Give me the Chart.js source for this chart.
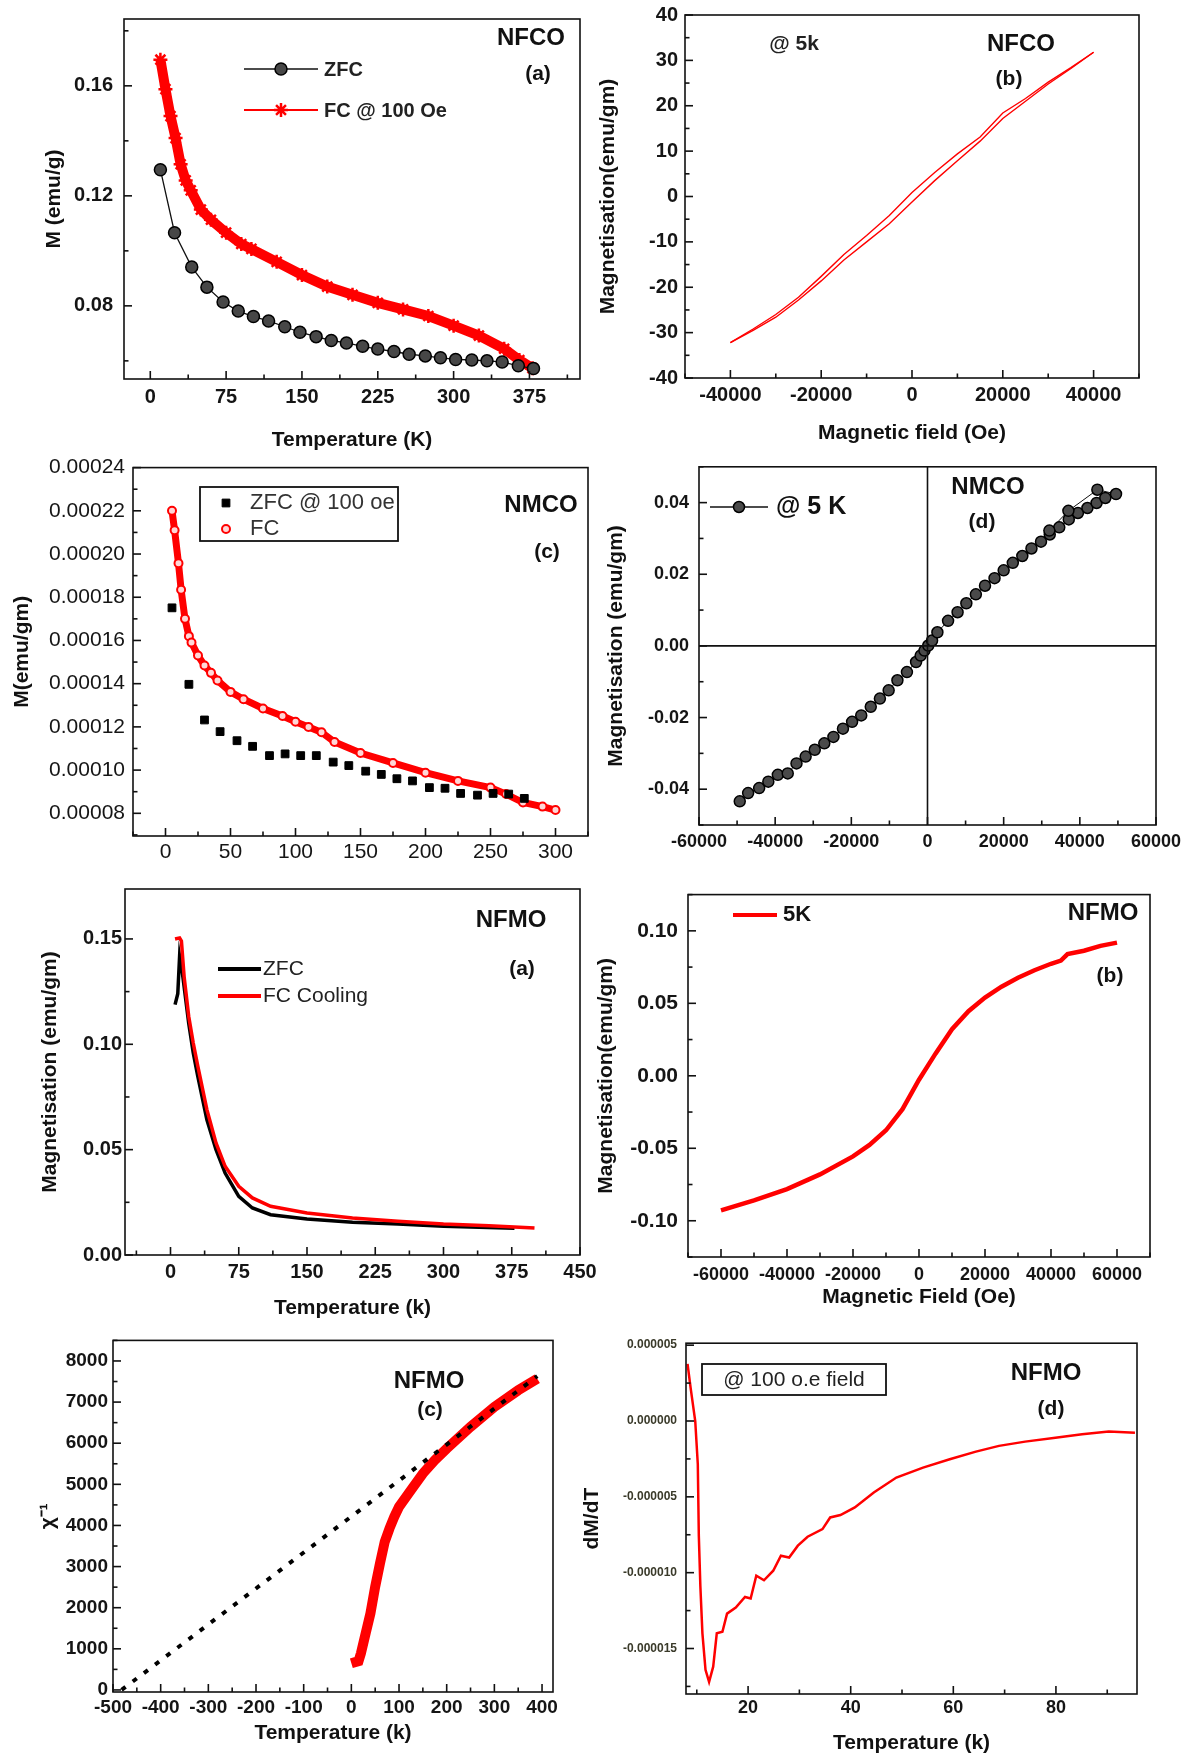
<!DOCTYPE html>
<html>
<head>
<meta charset="utf-8">
<title>NFCO / NMCO / NFMO magnetic measurements</title>
<script src="https://cdn.jsdelivr.net/npm/chart.js@4.4.1/dist/chart.umd.min.js"></script>
<style>
  html, body { margin: 0; padding: 0; background: #fff; overflow: hidden; }
  body { width: 1181px; height: 1754px; position: relative; }
  canvas { position: absolute; }
</style>
</head>
<body>
<canvas id="nfcoMT"></canvas>
<canvas id="nfcoMH"></canvas>
<canvas id="nmcoMT"></canvas>
<canvas id="nmcoMH"></canvas>
<canvas id="nfmoMT"></canvas>
<canvas id="nfmoMH"></canvas>
<canvas id="nfmoChi"></canvas>
<canvas id="nfmoDmdt"></canvas>
<script>
// NFCO (a): M vs T
const nfcoZfcT = [10, 24, 41, 56, 72, 87, 102, 117, 133, 148, 164, 179, 194, 210, 225, 241, 256, 272, 287, 302, 318, 333, 348, 364, 379];
const nfcoZfcM = [0.1295, 0.1066, 0.0941, 0.0868, 0.0814, 0.0781, 0.0761, 0.0745, 0.0724, 0.0704, 0.0688, 0.0674, 0.0665, 0.0653, 0.0643, 0.0634, 0.0624, 0.0618, 0.0611, 0.0605, 0.0603, 0.0600, 0.0596, 0.0582, 0.0572];
const nfcoFcT = [10, 15, 20, 25, 30, 35, 40, 50, 60, 75, 90, 100, 125, 150, 175, 200, 225, 250, 275, 300, 325, 350, 365, 378];
const nfcoFcM = [0.1695, 0.1588, 0.149, 0.141, 0.1315, 0.1256, 0.122, 0.115, 0.1113, 0.1066, 0.1025, 0.1007, 0.096, 0.0912, 0.087, 0.084, 0.0811, 0.0787, 0.0763, 0.0728, 0.0692, 0.0644, 0.0603, 0.0573];

// NFCO (b): hysteresis at 5 K
const nfcoField = [-40000, -35000, -30000, -25000, -20000, -15000, -10000, -5000, 0, 5000, 10000, 15000, 20000, 25000, 30000, 35000, 40000];
const nfcoUpper = [-32.2, -29.2, -26.0, -22.2, -17.6, -12.8, -8.6, -4.2, 0.9, 5.3, 9.4, 13.1, 18.4, 21.6, 25.2, 28.4, 31.8];
const nfcoLower = [-32.2, -29.5, -26.6, -22.8, -18.6, -14.0, -10.0, -6.0, -1.2, 3.5, 7.9, 12.2, 17.2, 21.0, 24.8, 28.2, 31.8];

// NMCO (c): M vs T
const nmcoZfcT = [5, 18, 30, 42, 55, 67, 80, 92, 104, 116, 129, 141, 154, 166, 178, 190, 203, 215, 227, 240, 252, 264, 276];
const nmcoZfcM = [0.0001751, 0.0001397, 0.0001232, 0.0001178, 0.0001136, 0.000111, 0.0001067, 0.0001075, 0.0001067, 0.0001067, 0.0001037, 0.0001021, 0.0000995, 0.000098, 0.000096, 0.000095, 0.0000919, 0.0000916, 0.0000892, 0.0000884, 0.0000892, 0.0000889, 0.0000869];
const nmcoFcT = [5, 7, 10, 12, 15, 18, 20, 25, 30, 35, 40, 50, 60, 75, 90, 100, 110, 120, 130, 150, 175, 200, 225, 250, 262, 275, 290, 300];
const nmcoFcM = [0.00022, 0.000211, 0.0001957, 0.0001835, 0.00017, 0.000162, 0.000159, 0.000153, 0.0001484, 0.000145, 0.0001415, 0.0001362, 0.0001328, 0.0001285, 0.000125, 0.0001224, 0.00012, 0.0001175, 0.000113, 0.0001079, 0.0001033, 0.0000988, 0.000095, 0.0000919, 0.0000889, 0.000085, 0.0000831, 0.0000815];

// NMCO (d): M vs H at 5 K
const nmcoField = [-49300, -47100, -44200, -41800, -39300, -36700, -34400, -32000, -29600, -27100, -24700, -22200, -19800, -17400, -14900, -12500, -10200, -7900, -5400, -3000, -1800, -800, 200, 1200, 2600, 5400, 7900, 10200, 12700, 15100, 17600, 20000, 22400, 24900, 27300, 29800, 32100, 34600, 37100, 39500, 42000, 44400, 46700, 49500, 44600, 37000, 32000];
const nmcoM = [-0.0434, -0.0411, -0.0397, -0.0379, -0.036, -0.0356, -0.0328, -0.0309, -0.029, -0.0272, -0.0254, -0.0231, -0.0212, -0.0194, -0.017, -0.0147, -0.0124, -0.0096, -0.0073, -0.0045, -0.0027, -0.0013, 0.0001, 0.0015, 0.0038, 0.007, 0.0094, 0.0119, 0.0144, 0.0168, 0.0189, 0.0211, 0.0232, 0.0251, 0.0272, 0.0291, 0.0311, 0.0331, 0.0353, 0.0371, 0.0385, 0.0399, 0.0413, 0.0424, 0.0436, 0.0377, 0.0322];

// NFMO (a): M vs T
const nfmoZfcT = [5, 8, 10, 13, 20, 25, 30, 40, 50, 60, 75, 90, 110, 150, 200, 250, 300, 378];
const nfmoZfcM = [0.1188, 0.124, 0.1418, 0.134, 0.110, 0.0959, 0.0848, 0.0642, 0.050, 0.0389, 0.0278, 0.0223, 0.0191, 0.0171, 0.0155, 0.0147, 0.0136, 0.0127];
const nfmoFcT = [5, 10, 12, 15, 20, 25, 30, 40, 50, 60, 75, 90, 110, 150, 200, 250, 300, 350, 400];
const nfmoFcM = [0.150, 0.1505, 0.149, 0.132, 0.1133, 0.1006, 0.0896, 0.069, 0.0532, 0.0421, 0.0326, 0.0271, 0.0231, 0.0199, 0.0176, 0.016, 0.0147, 0.0139, 0.0128];

// NFMO (b): M vs H at 5 K
const nfmoField = [-60000, -50000, -40000, -30000, -20000, -15000, -10000, -5000, 0, 5000, 10000, 15000, 20000, 25000, 30000, 35000, 40000, 43000, 45000, 50000, 55000, 60000];
const nfmoM = [-0.0928, -0.086, -0.0782, -0.068, -0.0556, -0.0477, -0.0376, -0.023, -0.0027, 0.0153, 0.0322, 0.0446, 0.054, 0.0615, 0.0676, 0.0728, 0.0773, 0.0795, 0.084, 0.0863, 0.0896, 0.0919];

// NFMO (c): inverse susceptibility and Curie-Weiss fit
const chiT = [0, 15, 20, 30, 40, 50, 60, 70, 80, 90, 100, 125, 150, 175, 200, 250, 300, 350, 390];
const chiInv = [648, 700, 890, 1376, 1862, 2510, 3077, 3603, 3927, 4210, 4453, 4858, 5263, 5587, 5870, 6397, 6883, 7287, 7570];
const fitT = [-482, 390];
const fitChi = [0, 7630];

// NFMO (d): dM/dT
const dmdtT = [8.2, 8.8, 9.7, 10.2, 10.4, 10.7, 11.1, 11.7, 12.4, 13.2, 13.9, 15, 15.9, 17.6, 19.4, 20.5, 21.6, 23.1, 24.9, 26.4, 28, 29.7, 31.6, 34.5, 36, 38, 40.8, 44.5, 48.9, 54.1, 59.3, 64.4, 68.9, 74, 79.9, 85.1, 90.3, 95.4];
const dmdtV = [3.77e-6, 2.19e-6, 0, -2.85e-6, -7.57e-6, -10.9e-6, -14.0e-6, -16.4e-6, -17.2e-6, -16.2e-6, -14.0e-6, -13.9e-6, -12.7e-6, -12.3e-6, -11.6e-6, -11.7e-6, -10.2e-6, -10.5e-6, -9.87e-6, -8.88e-6, -9.0e-6, -8.22e-6, -7.63e-6, -7.13e-6, -6.36e-6, -6.2e-6, -5.7e-6, -4.71e-6, -3.73e-6, -3.07e-6, -2.52e-6, -2.02e-6, -1.64e-6, -1.36e-6, -1.1e-6, -0.88e-6, -0.7e-6, -0.77e-6];

const FONT = "'Liberation Sans', Arial, sans-serif";
const RED = '#ff0000';
const pts = (xs, ys) => xs.map((x, i) => ({x, y: ys[i]}));
const fix = n => v => (Math.abs(v) < 1e-12 ? 0 : v).toFixed(n);
const plain = v => String(Math.round(v));

// frame box + inward major/minor ticks, optional zero lines
const frameTicks = {
  id: 'frameTicks',
  afterDatasetsDraw(chart) {
    const {ctx, chartArea: a, scales} = chart;
    const info = panelInfo[chart.canvas.id];
    ctx.save();
    ctx.strokeStyle = '#111';
    ctx.lineWidth = 1.6;
    if (info.zero) {
      const zx = scales.x.getPixelForValue(0), zy = scales.y.getPixelForValue(0);
      ctx.beginPath();
      ctx.moveTo(zx, a.top); ctx.lineTo(zx, a.bottom);
      ctx.moveTo(a.left, zy); ctx.lineTo(a.right, zy);
      ctx.stroke();
    }
    ctx.strokeRect(a.left, a.top, a.right - a.left, a.bottom - a.top);
    for (const s of [scales.x, scales.y]) {
      const vals = s.ticks.map(t => t.value);
      const step = vals[1] - vals[0];
      for (let k = -2; k < vals.length * 2 + 2; k++) {
        const v = vals[0] + k * step / 2;
        if (v < s.min || v > s.max) continue;
        const len = k % 2 === 0 ? 8 : 4.5;
        const p = s.getPixelForValue(v);
        ctx.beginPath();
        if (s.isHorizontal()) { ctx.moveTo(p, a.bottom); ctx.lineTo(p, a.bottom - len); }
        else { ctx.moveTo(a.left, p); ctx.lineTo(a.left + len, p); }
        ctx.stroke();
      }
    }
    ctx.restore();
  }
};

// labels, legend keys and boxes placed in page pixels
const notes = {
  id: 'notes',
  afterDraw(chart) {
    const info = panelInfo[chart.canvas.id];
    const ctx = chart.ctx;
    ctx.save();
    ctx.translate(-info.ox, -info.oy);
    for (const n of info.notes) {
      if (n.box) {
        ctx.strokeStyle = '#111'; ctx.lineWidth = 1.8;
        ctx.strokeRect(n.box[0], n.box[1], n.box[2] - n.box[0], n.box[3] - n.box[1]);
      }
      if (n.line) {
        ctx.strokeStyle = n.color; ctx.lineWidth = n.width;
        ctx.beginPath(); ctx.moveTo(n.line[0], n.line[2]); ctx.lineTo(n.line[1], n.line[2]); ctx.stroke();
      }
      if (n.marker) {
        const m = n.marker;
        ctx.fillStyle = m.bg; ctx.strokeStyle = m.border; ctx.lineWidth = m.bw;
        Chart.helpers.drawPoint(ctx, {pointStyle: m.style, radius: m.r, borderWidth: m.bw, rotation: 0}, m.x, m.y);
      }
      if (n.text) {
        ctx.fillStyle = n.color || '#111';
        ctx.font = (n.weight || 'bold') + ' ' + (n.size || 21) + 'px ' + FONT;
        ctx.textAlign = n.align || 'left';
        ctx.textBaseline = 'middle';
        ctx.fillText(n.text, n.x, n.y);
      }
    }
    ctx.restore();
  }
};

const panelInfo = {};

function axisOpts(a, size, isX) {
  return {
    type: 'linear', min: a.min, max: a.max,
    grid: { display: false, drawTicks: false },
    border: { display: false },
    ticks: {
      autoSkip: false, maxRotation: 0,
      padding: a.pad, color: a.color || '#151515',
      font: { family: FONT, size: a.size, weight: a.weight || 'bold' },
      callback: a.fmt
    },
    // ticks on whole multiples of the step inside [min, max]
    afterBuildTicks: s => {
      const ticks = [];
      const k0 = Math.ceil(a.min / a.step - 1e-9), k1 = Math.floor(a.max / a.step + 1e-9);
      for (let k = k0; k <= k1; k++) ticks.push({value: Number((k * a.step).toPrecision(12))});
      s.ticks = ticks;
    },
    title: {
      display: !!a.title, text: a.title, color: '#111', padding: 0,
      font: { family: FONT, size: 21, weight: 'bold' }
    },
    afterFit: s => { if (isX) s.height = size; else s.width = size; }
  };
}

function buildPanel(p) {
  const f = p.frame;
  const half = 1.2 * 21 / 2;
  const left = Math.round(p.yTitleX - half);
  const top = f.t - 16;
  const right = f.r + (p.padRight || 24);
  const bottom = Math.round(p.xTitleY ? p.xTitleY + half : f.b + 44);
  const cv = document.getElementById(p.id);
  cv.width = right - left;
  cv.height = bottom - top;
  cv.style.left = left + 'px';
  cv.style.top = top + 'px';
  panelInfo[p.id] = { notes: p.notes, ox: left, oy: top, zero: !!p.zero };
  new Chart(cv, {
    type: 'scatter',
    data: { datasets: p.datasets },
    options: {
      responsive: false,
      animation: false,
      layout: { padding: { top: f.t - top, right: right - f.r, left: 0, bottom: 0 } },
      plugins: { legend: { display: false }, tooltip: { enabled: false } },
      scales: {
        x: axisOpts(Object.assign({title: p.xTitle}, p.x), bottom - f.b, true),
        y: axisOpts(Object.assign({title: p.yTitle}, p.y), f.l - left, false)
      }
    },
    plugins: [frameTicks, notes]
  });
}

const line = (data, color, width, extra) => Object.assign({
  data, showLine: true, borderColor: color, borderWidth: width, pointRadius: 0, tension: 0
}, extra || {});

const panels = [
  {
    id: 'nfcoMT', frame: {l: 124, t: 12, r: 580, b: 379}, yTitleX: 55, xTitleY: 440,
    xTitle: 'Temperature (K)', yTitle: 'M (emu/g)',
    x: {min: -26, max: 425, step: 75, pad: 6, size: 20, fmt: plain},
    y: {min: 0.0534, max: 0.1843, step: 0.04, pad: 11, size: 20, fmt: fix(2)},
    datasets: [
      line(pts(nfcoZfcT, nfcoZfcM), '#111', 1.3, {order: 0, pointRadius: 6, pointStyle: 'circle',
        pointBackgroundColor: '#474747', pointBorderColor: '#000', pointBorderWidth: 1.5}),
      line(pts(nfcoFcT, nfcoFcM), RED, 10, {order: 1, pointRadius: 7, pointStyle: 'star',
        pointBorderColor: RED, pointBackgroundColor: RED, pointBorderWidth: 2.5})
    ],
    notes: [
      {line: [244, 318, 69], color: '#111', width: 1.5, marker: {x: 281, y: 69, style: 'circle', r: 6, bg: '#474747', border: '#000', bw: 1.5}},
      {text: 'ZFC', x: 324, y: 70, size: 20, color: '#222'},
      {line: [244, 318, 110], color: RED, width: 2, marker: {x: 281, y: 110, style: 'star', r: 7, bg: RED, border: RED, bw: 2.5}},
      {text: 'FC @ 100 Oe', x: 324, y: 111, size: 20, color: '#222'},
      {text: 'NFCO', x: 531, y: 38, size: 24, align: 'center'},
      {text: '(a)', x: 538, y: 74, size: 21, align: 'center'}
    ]
  },
  {
    id: 'nfcoMH', frame: {l: 685, t: 12, r: 1139, b: 378}, yTitleX: 609, xTitleY: 433,
    xTitle: 'Magnetic field (Oe)', yTitle: 'Magnetisation(emu/gm)',
    x: {min: -50000, max: 50000, step: 20000, pad: 5, size: 20, fmt: plain},
    y: {min: -40, max: 40, step: 10, pad: 7, size: 20, fmt: plain},
    datasets: [
      line(pts(nfcoField, nfcoUpper), RED, 1.4),
      line(pts(nfcoField, nfcoLower), RED, 1.4)
    ],
    notes: [
      {text: '@ 5k', x: 794, y: 44, size: 21, align: 'center', color: '#222'},
      {text: 'NFCO', x: 1021, y: 44, size: 24, align: 'center'},
      {text: '(b)', x: 1009, y: 79, size: 21, align: 'center'}
    ]
  },
  {
    id: 'nmcoMT', frame: {l: 133, t: 463, r: 588, b: 836}, yTitleX: 23,
    yTitle: 'M(emu/gm)',
    x: {min: -25, max: 325, step: 50, pad: 4, size: 21, weight: 'normal', fmt: plain},
    y: {min: 0.0000695, max: 0.00024, step: 0.00002, pad: 8, size: 21, weight: 'normal', fmt: fix(5)},
    datasets: [
      {data: pts(nmcoZfcT, nmcoZfcM), order: 0, pointStyle: 'rect', pointRadius: 5.5,
        pointBackgroundColor: '#000', pointBorderColor: '#000', pointBorderWidth: 1},
      line(pts(nmcoFcT, nmcoFcM), RED, 7, {order: 1, pointRadius: 4, pointStyle: 'circle',
        pointBorderColor: RED, pointBackgroundColor: '#ffd6d6', pointBorderWidth: 2})
    ],
    notes: [
      {box: [200, 487, 398, 541]},
      {marker: {x: 226, y: 503, style: 'rect', r: 5.5, bg: '#000', border: '#000', bw: 1}},
      {text: 'ZFC @ 100 oe', x: 250, y: 503, size: 22, weight: 'normal', color: '#333'},
      {marker: {x: 226, y: 529, style: 'circle', r: 4, bg: '#ffd6d6', border: RED, bw: 2}},
      {text: 'FC', x: 250, y: 529, size: 22, weight: 'normal', color: '#333'},
      {text: 'NMCO', x: 541, y: 505, size: 24, align: 'center'},
      {text: '(c)', x: 547, y: 552, size: 21, align: 'center'}
    ]
  },
  {
    id: 'nmcoMH', frame: {l: 699, t: 462, r: 1156, b: 825}, yTitleX: 617, zero: true, padRight: 32,
    yTitle: 'Magnetisation (emu/gm)',
    x: {min: -60000, max: 60000, step: 20000, pad: 6, size: 18, fmt: plain},
    y: {min: -0.05, max: 0.05, step: 0.02, pad: 10, size: 18, fmt: fix(2)},
    datasets: [
      line(pts(nmcoField, nmcoM), '#111', 1, {pointRadius: 5.5, pointStyle: 'circle',
        pointBackgroundColor: '#4a4a4a', pointBorderColor: '#000', pointBorderWidth: 1.5})
    ],
    notes: [
      {line: [710, 768, 507], color: '#111', width: 1.5, marker: {x: 739, y: 507, style: 'circle', r: 5.5, bg: '#4a4a4a', border: '#000', bw: 1.5}},
      {text: '@ 5 K', x: 776, y: 507, size: 25},
      {text: 'NMCO', x: 988, y: 487, size: 24, align: 'center'},
      {text: '(d)', x: 982, y: 522, size: 21, align: 'center'}
    ]
  },
  {
    id: 'nfmoMT', frame: {l: 125, t: 889, r: 580, b: 1255}, yTitleX: 51, xTitleY: 1308,
    xTitle: 'Temperature (k)', yTitle: 'Magnetisation (emu/gm)',
    x: {min: -50, max: 450, step: 75, pad: 5, size: 20, fmt: plain},
    y: {min: 0, max: 0.1737, step: 0.05, pad: 3, size: 20, fmt: fix(2)},
    datasets: [
      line(pts(nfmoZfcT, nfmoZfcM), '#000', 3.5, {order: 1}),
      line(pts(nfmoFcT, nfmoFcM), RED, 3.5, {order: 0})
    ],
    notes: [
      {line: [218, 261, 969], color: '#000', width: 4},
      {text: 'ZFC', x: 263, y: 969, size: 21, weight: 'normal', color: '#222'},
      {line: [218, 261, 996], color: RED, width: 4},
      {text: 'FC Cooling', x: 263, y: 996, size: 21, weight: 'normal', color: '#222'},
      {text: 'NFMO', x: 511, y: 920, size: 24, align: 'center'},
      {text: '(a)', x: 522, y: 969, size: 21, align: 'center'}
    ]
  },
  {
    id: 'nfmoMH', frame: {l: 688, t: 888, r: 1150, b: 1257}, yTitleX: 607, xTitleY: 1297,
    xTitle: 'Magnetic Field (Oe)', yTitle: 'Magnetisation(emu/gm)',
    x: {min: -70000, max: 70000, step: 20000, pad: 7, size: 18, fmt: plain},
    y: {min: -0.125, max: 0.125, step: 0.05, pad: 10, size: 21, fmt: fix(2)},
    datasets: [
      line(pts(nfmoField, nfmoM), RED, 4.5)
    ],
    notes: [
      {line: [733, 777, 915], color: RED, width: 4},
      {text: '5K', x: 783, y: 915, size: 22},
      {text: 'NFMO', x: 1103, y: 913, size: 24, align: 'center'},
      {text: '(b)', x: 1110, y: 976, size: 21, align: 'center'}
    ]
  },
  {
    id: 'nfmoChi', frame: {l: 113, t: 1340, r: 553, b: 1692}, yTitleX: 49, xTitleY: 1733,
    xTitle: 'Temperature (k)', yTitle: 'χ⁻¹',
    x: {min: -500, max: 423, step: 100, pad: 4, size: 19, fmt: plain},
    y: {min: -50, max: 8500, step: 1000, pad: 5, size: 19, fmt: plain},
    datasets: [
      line(pts(fitT, fitChi), '#000', 4, {order: 0, borderDash: [5, 9]}),
      line(pts(chiT, chiInv), RED, 10, {order: 1})
    ],
    notes: [
      {text: 'NFMO', x: 429, y: 1381, size: 24, align: 'center'},
      {text: '(c)', x: 430, y: 1410, size: 21, align: 'center'}
    ]
  },
  {
    id: 'nfmoDmdt', frame: {l: 686, t: 1343, r: 1137, b: 1694}, yTitleX: 593, xTitleY: 1743,
    xTitle: 'Temperature (k)', yTitle: 'dM/dT',
    x: {min: 7.9, max: 95.8, step: 20, pad: 3, size: 18, fmt: plain},
    y: {min: -0.000018, max: 0.00000513, step: 0.000005, pad: 9, size: 12, color: '#3a3a2a', fmt: fix(6)},
    datasets: [
      line(pts(dmdtT, dmdtV), RED, 2.5)
    ],
    notes: [
      {box: [702, 1364, 886, 1395]},
      {text: '@ 100 o.e field', x: 794, y: 1380, size: 21, weight: 'normal', align: 'center', color: '#222'},
      {text: 'NFMO', x: 1046, y: 1373, size: 24, align: 'center'},
      {text: '(d)', x: 1051, y: 1409, size: 21, align: 'center'}
    ]
  }
];

panels.forEach(buildPanel);
</script>
</body>
</html>
